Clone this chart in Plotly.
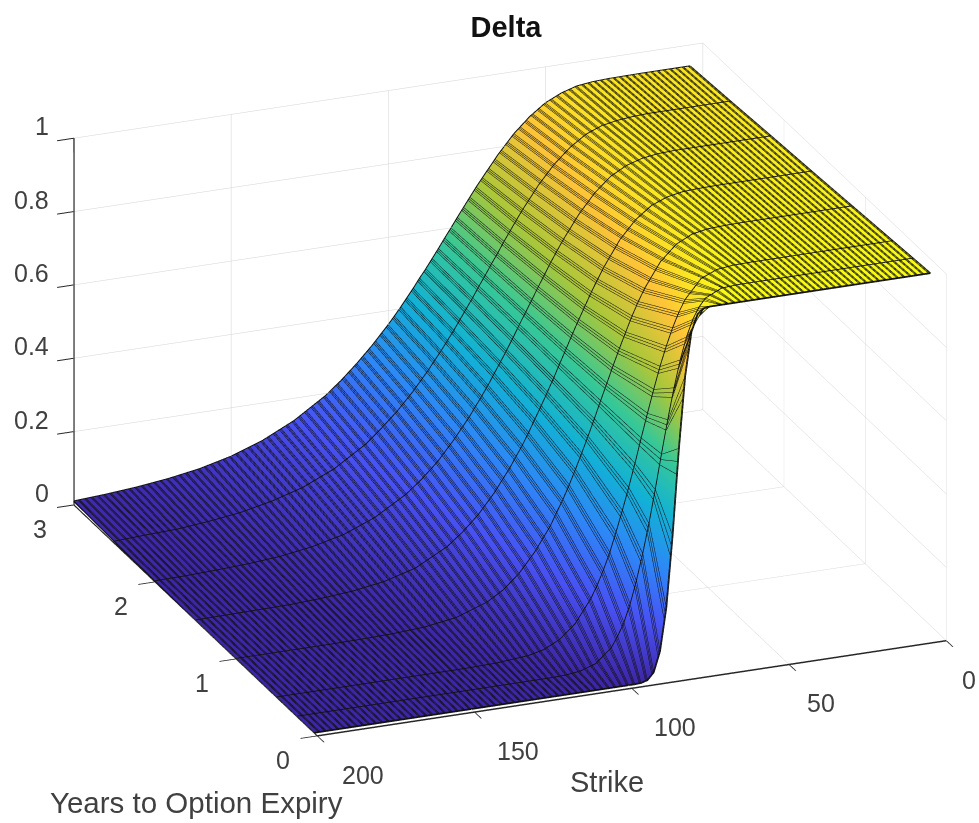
import plotly.graph_objects as go

strikes = [4,10,20,30,35,40,45,50,55,60,65,70,72,74,76,78,80,82,84,86,88,90,92,94,96,98,100,105,110,115,120,130,140,150,160,170,180,190,200]
expiries_short = [0.04, 0.25, 0.5]
expiries_long = [0.5, 1, 1.5, 2, 2.5, 3]

delta_004 = [.999,.999,.999,.999,.999,.999,.999,.999,.999,.999,.999,.999,.999,.999,.997,.984,.938,.820,.625,.39,.196,.08,.025,.006,.001,0,0,0,0,0,0,0,0,0,0,0,0,0,0]
delta_025 = [.995,.995,.995,.995,.995,.995,.995,.995,.995,.995,.992,.972,.951,.920,.875,.815,.741,.656,.565,.470,.380,.300,.229,.168,.120,.085,.057,.02,.006,.001,0,0,0,0,0,0,0,0,0]
delta_050 = [.99,.99,.99,.99,.99,.99,.99,.99,.989,.984,.966,.916,.884,.844,.797,.744,.684,.621,.556,.489,.426,.366,.310,.257,.212,.173,.139,.077,.040,.019,.009,.002,0,0,0,0,0,0,0]
delta_100 = [.98,.98,.98,.98,.98,.98,.979,.977,.969,.948,.907,.841,.808,.771,.730,.688,.644,.598,.553,.506,.461,.418,.376,.336,.299,.266,.232,.167,.115,.077,.051,.021,.008,.003,.001,0,0,0,0]
delta_150 = [.97,.97,.97,.97,.97,.969,.967,.959,.942,.910,.862,.795,.764,.732,.697,.662,.626,.588,.551,.513,.477,.442,.408,.374,.342,.314,.285,.223,.171,.130,.096,.051,.027,.014,.007,.003,.002,.001,0]
delta_200 = [.961,.961,.961,.961,.961,.959,.953,.940,.917,.879,.828,.765,.737,.708,.677,.646,.614,.582,.551,.518,.487,.457,.428,.398,.371,.345,.319,.262,.211,.170,.135,.084,.050,.030,.017,.010,.006,.003,.002]
delta_250 = [.951,.951,.951,.951,.949,.945,.937,.920,.891,.852,.802,.742,.716,.689,.662,.633,.606,.577,.550,.521,.494,.467,.440,.415,.390,.367,.343,.290,.243,.203,.166,.112,.074,.049,.031,.020,.012,.009,.005]
delta_300 = [.942,.942,.942,.941,.939,.934,.921,.901,.870,.830,.780,.723,.700,.675,.650,.625,.599,.574,.548,.523,.498,.475,.450,.427,.404,.382,.361,.312,.268,.228,.193,.138,.097,.067,.046,.032,.022,.015,.010]

strike_ticks = [0, 50, 100, 150, 200]
strike_label_shift = [14, 16, 20, 20, 23]
expiry_ticks = [0, 1, 2, 3]
delta_ticks = [0, 0.2, 0.4, 0.6, 0.8, 1]
delta_tick_text = ["0", "0.2", "0.4", "0.6", "0.8", "1"]

parula = [
    (0.2422,0.1504,0.6603),(0.2810,0.3228,0.9579),(0.1786,0.5289,0.9682),(0.0689,0.6948,0.8394),
    (0.2161,0.7843,0.5923),(0.6720,0.7793,0.2227),(0.9970,0.7659,0.2199),(0.9769,0.9839,0.0805),
]
n = len(parula) - 1
colorscale = [[i / n, "rgb(%d,%d,%d)" % tuple(round(c * 255) for c in rgb)] for i, rgb in enumerate(parula)]

INK = "#404040"
GRID = "#d4d4d4"
LINE = "#111111"
FLAT = dict(ambient=1, diffuse=0, specular=0, roughness=1, fresnel=0)
nolines = dict(highlight=False)

fig = go.Figure()
# Copies of each band: their strike lines sit side by side so each mesh line reads thicker than 1 px
for offset in (0, 0.3, 0.6):
    xlines = dict(show=True, start=4 + offset, end=200, size=2, color=LINE, width=1, highlight=False)
    fig.add_trace(go.Surface(
        x=strikes, y=expiries_short, z=[delta_004, delta_025, delta_050],
        colorscale=colorscale, cmin=0, cmax=1, showscale=False, lighting=FLAT,
        contours=dict(x=xlines, y=nolines, z=nolines), hoverinfo="skip",
    ))
    fig.add_trace(go.Surface(
        x=strikes, y=expiries_long, z=[delta_050, delta_100, delta_150, delta_200, delta_250, delta_300],
        colorscale=colorscale, cmin=0, cmax=1, showscale=False, lighting=FLAT,
        contours=dict(x=xlines, y=nolines, z=nolines), hoverinfo="skip",
    ))

rows = [(0.04, delta_004), (0.25, delta_025), (0.5, delta_050), (1, delta_100),
        (1.5, delta_150), (2, delta_200), (2.5, delta_250), (3, delta_300)]
for t, row in rows:
    fig.add_trace(go.Scatter3d(x=strikes, y=[t] * len(strikes), z=row, mode="lines",
                               line=dict(color=LINE, width=3.5), hoverinfo="skip"))
for j in (0, len(strikes) - 1):
    fig.add_trace(go.Scatter3d(x=[strikes[j]] * len(rows), y=[r[0] for r in rows], z=[r[1][j] for r in rows],
                               mode="lines", line=dict(color=LINE, width=2.5), hoverinfo="skip"))

def axis(ticks, rng):
    return dict(
        title=dict(text=""), range=rng, tickmode="array", tickvals=ticks, showticklabels=False,
        showbackground=False, showgrid=True, gridcolor=GRID, gridwidth=1,
        showline=True, linecolor="#262626", linewidth=3, zeroline=False, showspikes=False,
        ticks="outside", ticklen=18, tickcolor="#262626", tickwidth=2,
    )

TICKFONT = dict(family="Liberation Sans", size=25, color=INK)
tick_labels = []
for v, sh in zip(strike_ticks, strike_label_shift):
    tick_labels.append(dict(x=v, y=0, z=0, text=str(v), showarrow=False, xanchor="left", yanchor="middle",
                            xshift=sh, yshift=-39, font=TICKFONT))
for v in expiry_ticks:
    tick_labels.append(dict(x=200, y=v, z=0, text=str(v), showarrow=False, xanchor="center", yanchor="middle",
                            xshift=-34, yshift=-24, font=TICKFONT))
for v, s in zip(delta_ticks, delta_tick_text):
    tick_labels.append(dict(x=200, y=3, z=v, text=s, showarrow=False, xanchor="right", yanchor="middle",
                            xshift=-23, yshift=12, font=TICKFONT))

fig.update_layout(
    width=979, height=823, paper_bgcolor="white",
    margin=dict(l=0, r=0, t=0, b=0), showlegend=False,
    title=dict(text="<b>Delta</b>", x=506/979, y=1-27/823, xanchor="center", yanchor="middle",
               font=dict(family="Liberation Sans", size=29, color="#111111")),
    scene=dict(
        domain=dict(x=[0, 1.0], y=[0.0, 1.0]),
        xaxis=axis(strike_ticks, [200, 0]),
        yaxis=axis(expiry_ticks, [0, 3]),
        zaxis=axis(delta_ticks, [0, 1]),
        aspectmode="manual", aspectratio=dict(x=1.646, y=1.595, z=0.963),
        camera=dict(projection=dict(type="orthographic"), center=dict(x=-0.0540, y=-0.0003, z=-0.0496),
                    eye=dict(x=-0.397, y=-0.859, z=0.329), up=dict(x=0, y=0, z=1)),
        annotations=tick_labels,
    ),
    annotations=[
        dict(text="Strike", x=607/979, y=1-782/823, xref="paper", yref="paper", showarrow=False, xanchor="center", yanchor="middle",
             font=dict(family="Liberation Sans", size=29, color=INK)),
        dict(text="Years to Option Expiry", x=196.5/979, y=1-802/823, xref="paper", yref="paper", showarrow=False, xanchor="center", yanchor="middle",
             font=dict(family="Liberation Sans", size=29.5, color=INK)),
    ],
)
fig.write_html("out.html", config=dict(displayModeBar=False), post_script="document.body.style.margin='0';")
